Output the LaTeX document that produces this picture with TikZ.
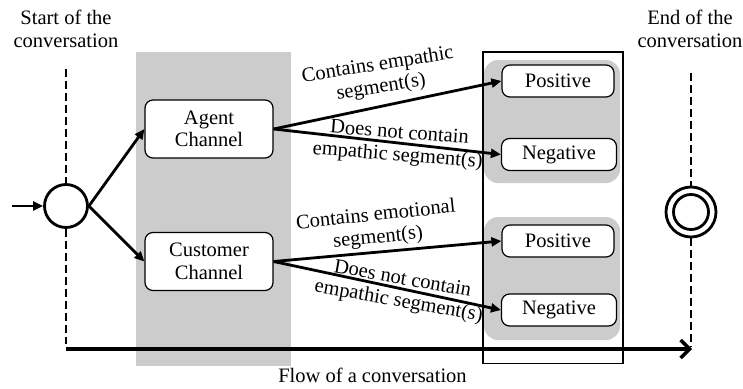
\documentclass[tikz,border=0pt]{standalone}
\usepackage{fontspec}
\setmainfont{Liberation Serif}
\usetikzlibrary{arrows.meta}
\begin{document}
\begin{tikzpicture}[x=1pt,y=-1pt,
  font=\fontsize{20.5}{22.5}\selectfont,
  box/.style={draw,line width=1.2pt,rounded corners=8pt,fill=white,align=center,inner sep=0pt},
  chan/.style={box,minimum width=128pt,minimum height=58pt},
  res/.style={box,minimum height=32pt},
  grp/.style={fill=black!20,rounded corners=14pt},
  arr/.style={line width=2.8pt,-{Triangle[length=10pt,width=9pt]}},
  dsh/.style={line width=2.4pt,dash pattern=on 8pt off 4pt},
  ring/.style={draw,circle,line width=2.8pt,inner sep=0pt},
  lbl/.style={align=center,inner sep=0pt}
]
\useasboundingbox (0,0) rectangle (743,388);
% backgrounds
\fill[black!20] (136,52) rectangle (291,366);
\fill[grp] (484,60) rectangle (620,183);
\fill[grp] (484,217) rectangle (620,340);
\draw[line width=1.3pt] (483,52) rectangle (623,363.5);
% nodes
\node[ring,minimum size=43pt] (start) at (66,206) {};
\node[ring,minimum size=50pt] (endo) at (691,212) {};
\node[ring,minimum size=35pt] (endi) at (691,212) {};
\node[chan] (agent) at (209,129) {Agent\\Channel};
\node[chan] (cust) at (209,261.5) {Customer\\Channel};
\node[res,minimum width=112pt] (pos1) at (558,81) {Positive};
\node[res,minimum width=115pt] (neg1) at (559,154.5) {Negative};
\node[res,minimum width=112pt] (pos2) at (558,241) {Positive};
\node[res,minimum width=115pt] (neg2) at (559,310) {Negative};
% texts
\node[lbl] (st) at (66,29) {Start of the\\conversation};
\node[lbl] (et) at (690,29) {End of the\\conversation};
\node[lbl] (ft) at (372.5,375) {Flow of a conversation};
% dashed lines
\coordinate (s1) at (66,69);
\coordinate (s2) at (66,344);
\coordinate (e1) at (691,73);
\coordinate (e2) at (691,347);
\draw[dsh] (s1) -- (start.north);
\draw[dsh] (start.south) -- (s2);
\draw[dsh] (e1) -- (endo.north);
\draw[dsh] (endo.south) -- (e2);
% arrows
\coordinate (in) at (12,206);
\draw[arr] (in) -- (start.west);
\draw[arr] (start.east) -- (agent.west);
\draw[arr] (start.east) -- (cust.west);
\draw[arr] (agent.east) -- (pos1.west);
\draw[arr] (agent.east) -- (neg1.west);
\draw[arr] (cust.east) -- (pos2.west);
\draw[arr] (cust.east) -- (neg2.west);
\coordinate (f1) at (66,349);
\coordinate (f2) at (692,349);
\draw[line width=4pt,-{Straight Barb[length=9pt,width=18pt,line width=3.5pt]}] (f1) -- (f2);
% edge labels
\node[lbl,rotate=9] (l1) at (379.5,76.5) {Contains empathic\\segment(s)};
\node[lbl,rotate=-4.5] (l2) at (398.5,145) {Does not contain\\empathic segment(s)};
\node[lbl,rotate=6] (l3) at (377,227) {Contains emotional\\segment(s)};
\node[lbl,rotate=-10] (l4) at (400.5,291) {Does not contain\\empathic segment(s)};
\end{tikzpicture}
\end{document}
